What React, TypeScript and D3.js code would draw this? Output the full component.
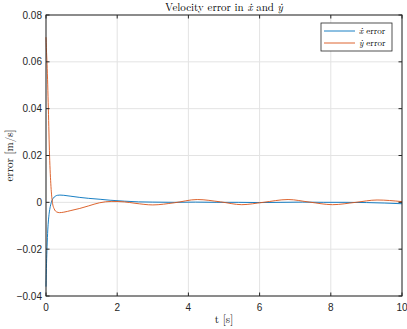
import React from "react";
import * as d3 from "d3";

const xErrT = [0, 0.015, 0.03, 0.05, 0.07, 0.09, 0.12, 0.15, 0.2, 0.26, 0.32, 0.39, 0.5, 0.7, 0.95, 1.2, 1.52, 1.8, 2.2, 2.6, 3.0, 3.6, 4.2, 4.8, 5.4, 6.0, 6.6, 7.2, 7.8, 8.4, 9.0, 9.5, 10];
const xErrV = [-0.036, -0.026, -0.019, -0.0118, -0.0075, -0.0046, -0.0018, 0.0, 0.0017, 0.0026, 0.003, 0.0031, 0.003, 0.0026, 0.0021, 0.0017, 0.0013, 0.0009, 0.0005, 0.0002, 0.0001, 0.0, 0.0001, 0.0, 0.0, -0.0001, 0.0, 0.0001, 0.0, 0.0, -0.0001, -0.0003, -0.0006];

const yErrT = [0, 0.01, 0.03, 0.066, 0.1, 0.14, 0.18, 0.23, 0.3, 0.38, 0.5, 0.7, 0.95, 1.2, 1.5, 1.85, 2.2, 2.5, 3.0, 3.6, 4.25, 4.9, 5.5, 6.1, 6.8, 7.4, 8.05, 8.7, 9.3, 10];
const yErrV = [0.0705, 0.066, 0.059, 0.04, 0.02, 0.0067, 0.0, -0.0028, -0.0041, -0.0044, -0.0042, -0.0035, -0.0026, -0.0015, -0.0002, 0.0004, 0.0002, -0.0004, -0.0011, -0.0002, 0.0012, 0.0002, -0.001, 0.0, 0.0012, 0.0001, -0.001, 0.0, 0.001, 0.0003];

const xTicks = [0, 2, 4, 6, 8, 10];
const yTicks = [-0.04, -0.02, 0, 0.02, 0.04, 0.06, 0.08];

const W = 407, H = 329;
const L = 46, R = 402, T = 15, B = 296;

export default function App() {
  const x = d3.scaleLinear().domain([0, 10]).range([L, R]);
  const y = d3.scaleLinear().domain([-0.04, 0.08]).range([B, T]);
  const line = d3.line<[number, number]>().x(d => x(d[0])).y(d => y(d[1])).curve(d3.curveMonotoneX);
  const xPath = line(xErrT.map((t, i) => [t, xErrV[i]]) as [number, number][]) || "";
  const yPath = line(yErrT.map((t, i) => [t, yErrV[i]]) as [number, number][]) || "";
  const axisCol = "#262626";
  const gridCol = "#e3e3e3";
  const serif = "'Latin Modern Roman', 'CMU Serif', 'Liberation Serif', serif";
  const sans = "'Liberation Sans', Arial, sans-serif";
  const fmt = (v: number) => (v === 0 ? "0" : d3.format(".2f")(v));
  return (
    <svg width={W} height={H} style={{ position: "absolute", left: 0, top: 0, background: "#fff" }}>
      <rect x={0} y={0} width={W} height={H} fill="#fff" />
      {xTicks.map(t => (
        <line key={"gx" + t} x1={x(t)} x2={x(t)} y1={T} y2={B} stroke={gridCol} strokeWidth={1} />
      ))}
      {yTicks.map(v => (
        <line key={"gy" + v} x1={L} x2={R} y1={y(v)} y2={y(v)} stroke={gridCol} strokeWidth={1} />
      ))}
      <path d={xPath} fill="none" stroke="#0072BD" strokeWidth={0.9} />
      <path d={yPath} fill="none" stroke="#D95319" strokeWidth={0.9} />
      <rect x={L} y={T} width={R - L} height={B - T} fill="none" stroke={axisCol} strokeWidth={1} />
      {xTicks.map(t => (
        <g key={"tx" + t}>
          <line x1={x(t)} x2={x(t)} y1={B} y2={B - 3.5} stroke={axisCol} />
          <line x1={x(t)} x2={x(t)} y1={T} y2={T + 3.5} stroke={axisCol} />
          <text x={x(t)} y={B + 15} textAnchor="middle" fontFamily={sans} fontSize={10} fill={axisCol}>{t}</text>
        </g>
      ))}
      {yTicks.map(v => (
        <g key={"ty" + v}>
          <line x1={L} x2={L + 3.5} y1={y(v)} y2={y(v)} stroke={axisCol} />
          <line x1={R} x2={R - 3.5} y1={y(v)} y2={y(v)} stroke={axisCol} />
          <text x={L - 4} y={y(v) + 3.5} textAnchor="end" fontFamily={sans} fontSize={10} fill={axisCol}>{fmt(v)}</text>
        </g>
      ))}
      <text x={(L + R) / 2} y={11} textAnchor="middle" fontFamily={serif} fontSize={11} fill="#000">
        Velocity error in <tspan fontStyle="italic">ẋ</tspan> and <tspan fontStyle="italic">ẏ</tspan>
      </text>
      <text x={(L + R) / 2} y={323} textAnchor="middle" fontFamily={serif} fontSize={11} fill="#000">t [s]</text>
      <text transform={`translate(13,${(T + B) / 2}) rotate(-90)`} textAnchor="middle" fontFamily={serif} fontSize={11} fill="#000">error [m/s]</text>
      <g>
        <rect x={321} y={23} width={71} height={28} fill="#fff" stroke={axisCol} strokeWidth={0.8} />
        <line x1={324} x2={355} y1={31} y2={31} stroke="#0072BD" strokeWidth={0.9} />
        <line x1={324} x2={355} y1={43} y2={43} stroke="#D95319" strokeWidth={0.9} />
        <text x={359} y={34} fontFamily={serif} fontSize={9} fill="#000"><tspan fontStyle="italic">ẋ</tspan> error</text>
        <text x={359} y={46} fontFamily={serif} fontSize={9} fill="#000"><tspan fontStyle="italic">ẏ</tspan> error</text>
      </g>
    </svg>
  );
}
